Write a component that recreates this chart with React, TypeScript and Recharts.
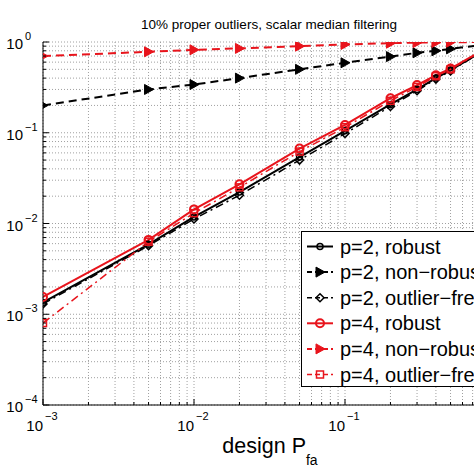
import { LineChart, Line, XAxis, YAxis, CartesianGrid, Legend } from "recharts";

// design Pfa values (x) and measured Pfa per configuration
const designPfa = [0.001, 0.005, 0.01, 0.02, 0.05, 0.1, 0.2, 0.3, 0.4, 0.5, 1];
const p2Robust = [0.00135, 0.0059, 0.0118, 0.0222, 0.054, 0.105, 0.205, 0.3, 0.4, 0.49, 0.97];
const p2NonRobust = [0.2, 0.3, 0.34, 0.4, 0.5, 0.59, 0.69, 0.76, 0.8, 0.84, 0.97];
const p2OutlierFree = [0.0013, 0.0057, 0.0112, 0.0205, 0.05, 0.098, 0.195, 0.29, 0.39, 0.48, 0.97];
const p4Robust = [0.00155, 0.0066, 0.0143, 0.027, 0.067, 0.122, 0.24, 0.335, 0.43, 0.51, 0.99];
const p4NonRobust = [0.7, 0.78, 0.82, 0.85, 0.9, 0.94, 0.97, 0.985, 0.99, 0.995, 1.0];
const p4OutlierFree = [0.0008, 0.0063, 0.013, 0.025, 0.062, 0.115, 0.225, 0.32, 0.42, 0.5, 0.98];

const xDecades = [0.001, 0.01, 0.1, 1];
const yDecades = [0.0001, 0.001, 0.01, 0.1, 1];
const titleText = "10% proper outliers, scalar median filtering";
const legendLabels = [
  "p=2, robust",
  "p=2, non\u2212robust",
  "p=2, outlier\u2212free",
  "p=4, robust",
  "p=4, non\u2212robust",
  "p=4, outlier\u2212free",
];

const FONT = "'Liberation Sans', Arial, Helvetica, sans-serif";

const withMinors = (decades: number[]) => {
  const out: number[] = [];
  decades.forEach((d, i) => {
    if (i === decades.length - 1) {
      out.push(d);
      return;
    }
    for (let m = 1; m <= 9; m++) out.push(+(d * m).toPrecision(6));
  });
  return out;
};
const xTicks = withMinors(xDecades);
const yTicks = withMinors(yDecades);

const data = designPfa.map((x, i) => ({
  x,
  p2r: p2Robust[i],
  p2n: p2NonRobust[i],
  p2o: p2OutlierFree[i],
  p4r: p4Robust[i],
  p4n: p4NonRobust[i],
  p4o: p4OutlierFree[i],
}));

type Marker = "circle" | "bigcircle" | "triangle" | "diamond" | "square";

const series: { key: string; color: string; dash?: string; width: number; marker: Marker }[] = [
  { key: "p2r", color: "#000", width: 2, marker: "circle" },
  { key: "p2n", color: "#000", dash: "8 5", width: 2, marker: "triangle" },
  { key: "p2o", color: "#000", dash: "8 4 2 4", width: 1.5, marker: "diamond" },
  { key: "p4r", color: "#e8141c", width: 2, marker: "bigcircle" },
  { key: "p4n", color: "#e8141c", dash: "8 5", width: 2, marker: "triangle" },
  { key: "p4o", color: "#e8141c", dash: "8 4 2 4", width: 1.5, marker: "square" },
];

const drawMarker = (kind: Marker, color: string, cx: number, cy: number, key?: string) => {
  switch (kind) {
    case "circle":
      return <circle key={key} cx={cx} cy={cy} r={3} fill="none" stroke={color} strokeWidth={1.5} />;
    case "bigcircle":
      return <circle key={key} cx={cx} cy={cy} r={4} fill="none" stroke={color} strokeWidth={2} />;
    case "triangle":
      return (
        <polygon
          key={key}
          points={`${cx + 5},${cy} ${cx - 4},${cy - 5} ${cx - 4},${cy + 5}`}
          fill={color}
          stroke={color}
          strokeWidth={1}
        />
      );
    case "diamond":
      return (
        <polygon
          key={key}
          points={`${cx},${cy - 4} ${cx + 4},${cy} ${cx},${cy + 4} ${cx - 4},${cy}`}
          fill="none"
          stroke={color}
          strokeWidth={1.5}
        />
      );
    case "square":
      return <rect key={key} x={cx - 3.5} y={cy - 3.5} width={7} height={7} fill="none" stroke={color} strokeWidth={1.5} />;
  }
};

const isDecade = (v: number) => Math.abs(Math.log10(v) - Math.round(Math.log10(v))) < 1e-6;
const expText = (v: number) => {
  const e = Math.round(Math.log10(v));
  return e < 0 ? "\u2212" + Math.abs(e) : String(e);
};

const XTick = (props: any) => {
  const { x, y, payload } = props;
  const v = payload.value;
  const major = isDecade(v);
  return (
    <g>
      <line x1={x} x2={x} y1={y} y2={y - (major ? 6 : 3)} stroke="#000" />
      {major && (
        <>
          <text x={x} y={y + 26} textAnchor="end" fontSize={15} fontFamily={FONT} fill="#000">
            10
          </text>
          <text x={x + 2} y={y + 15} textAnchor="start" fontSize={11} fontFamily={FONT} fill="#000">
            {expText(v)}
          </text>
        </>
      )}
    </g>
  );
};

const TopTick = (props: any) => {
  const { x, y, payload } = props;
  const major = isDecade(payload.value);
  return <line x1={x} x2={x} y1={y} y2={y + (major ? 6 : 3)} stroke="#000" />;
};

const YTick = (props: any) => {
  const { x, y, payload } = props;
  const v = payload.value;
  const major = isDecade(v);
  return (
    <g>
      <line x1={x} x2={x + (major ? 6 : 3)} y1={y} y2={y} stroke="#000" />
      {major && (
        <>
          <text x={x - 20} y={y + 7} textAnchor="end" fontSize={15} fontFamily={FONT} fill="#000">
            10
          </text>
          <text x={x - 18} y={y - 2} textAnchor="start" fontSize={11} fontFamily={FONT} fill="#000">
            {expText(v)}
          </text>
        </>
      )}
    </g>
  );
};

const LegendBox = () => (
  <svg width={240} height={156} style={{ display: "block" }}>
    <rect x={0.5} y={0.5} width={239} height={155} fill="#fff" stroke="#000" />
    {series.map((s, i) => {
      const cy = 15.5 + 25.6 * i;
      return (
        <g key={s.key}>
          <line x1={6} x2={32} y1={cy} y2={cy} stroke={s.color} strokeWidth={s.width} strokeDasharray={s.dash ? "5 3" : undefined} />
          {drawMarker(s.marker, s.color, 19, cy)}
          <text x={39} y={cy + 7} fontSize={20} fontFamily={FONT} fill="#000">
            {legendLabels[i]}
          </text>
        </g>
      );
    })}
  </svg>
);

export default function App() {
  return (
    <div
      style={{
        position: "absolute",
        left: 0,
        top: 0,
        width: 474,
        height: 474,
        overflow: "hidden",
        background: "#fff",
      }}
    >
      <div style={{ position: "relative", width: 520, height: 474 }}>
        <LineChart width={520} height={474} data={data} margin={{ top: 42, right: 24, bottom: 0, left: 0 }}>
          <CartesianGrid stroke="#a0a0a0" strokeDasharray="1 2" />
          <XAxis
            dataKey="x"
            type="number"
            scale="log"
            domain={[0.001, 1]}
            ticks={xTicks}
            allowDataOverflow
            height={69}
            tickSize={0}
            tickMargin={0}
            tick={<XTick />}
            axisLine={{ stroke: "#000" }}
            interval={0}
          />
          <XAxis
            xAxisId="top"
            orientation="top"
            dataKey="x"
            type="number"
            scale="log"
            domain={[0.001, 1]}
            ticks={xTicks}
            allowDataOverflow
            height={0}
            tickSize={0}
            tickMargin={0}
            tick={<TopTick />}
            axisLine={{ stroke: "#000" }}
            interval={0}
          />
          <YAxis
            type="number"
            scale="log"
            domain={[0.0001, 1]}
            ticks={yTicks}
            allowDataOverflow
            width={43}
            tickSize={0}
            tickMargin={0}
            tick={<YTick />}
            axisLine={{ stroke: "#000" }}
            interval={0}
          />
          {series.map((s) => (
            <Line
              key={s.key}
              dataKey={s.key}
              type="linear"
              stroke={s.color}
              strokeWidth={s.width}
              strokeDasharray={s.dash}
              isAnimationActive={false}
              activeDot={false}
              dot={(p: any) => drawMarker(s.marker, s.color, p.cx, p.cy, `${s.key}-${p.index}`)}
            />
          ))}
          <Legend
            layout="horizontal"
            verticalAlign="middle"
            align="center"
            wrapperStyle={{ position: "absolute", left: 301, top: 231, width: 240, height: 156, margin: 0, padding: 0 }}
            content={() => <LegendBox />}
          />
        </LineChart>
        <svg width={520} height={474} style={{ position: "absolute", left: 0, top: 0, pointerEvents: "none" }}>
          <text x={269} y={29} textAnchor="middle" fontSize={13.5} fontFamily={FONT} fill="#000">
            {titleText}
          </text>
          <text x={270} y={453} textAnchor="middle" fontSize={21.5} fontFamily={FONT} fill="#000">
            design P<tspan dy={12} fontSize={14}>fa</tspan>
          </text>
        </svg>
      </div>
    </div>
  );
}
